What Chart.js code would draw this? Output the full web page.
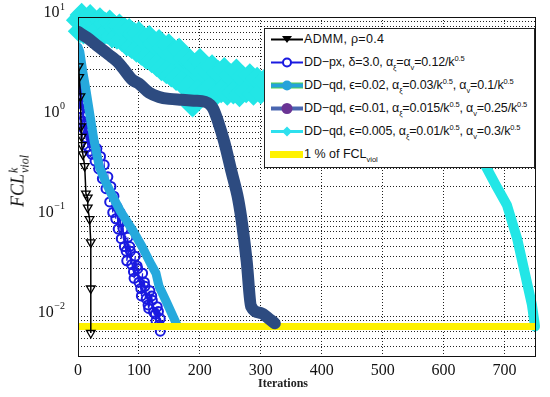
<!DOCTYPE html>
<html lang="en">
<head>
<meta charset="UTF-8">
<title>FCL violation vs iterations</title>
<script src="https://cdn.jsdelivr.net/npm/chart.js"></script>
<style>
    body { margin: 0; background: #fff; }
    #wrap { position: relative; width: 550px; height: 397px; }
    #ytitle {
        position: absolute; left: 19px; top: 181px;
        transform: translate(-50%, -50%) rotate(-90deg);
        font: italic 18px 'Liberation Serif', 'DejaVu Serif', serif;
        white-space: nowrap; color: #111;
    }
    .ss { display: inline-flex; flex-direction: column; vertical-align: middle; font-size: 12px; line-height: 11px; margin-left: 1px; }
    #xtitle {
        position: absolute; left: 283px; top: 376px; transform: translateX(-50%);
        font: bold 12px 'Liberation Serif', serif; color: #222;
    }
    #legend {
        position: absolute; left: 264px; top: 28px; width: 271px; height: 140px;
        box-sizing: border-box; border: 1px solid #222; background: #fff;
        font: 12.5px 'Liberation Sans', Arial, sans-serif; color: #111;
    }
    .row { position: absolute; left: 0; height: 23px; line-height: 23px; white-space: nowrap; }
    .row svg { position: absolute; left: 4px; top: 0; }
    .row span.t { position: absolute; left: 39px; top: 0; }
    .row span.n { letter-spacing: -0.15px; }
    sub, sup { font-size: 7.5px; line-height: 0; }
</style>
</head>
<body>
<div id="wrap">
    <canvas id="c" width="550" height="397"></canvas>
    <div id="ytitle">FCL<span class="ss"><span>k</span><span>viol</span></span></div>
    <div id="xtitle">Iterations</div>
    <div id="legend">
        <div class="row" style="top:-1px">
            <svg width="36" height="23"><line x1="2" y1="11.5" x2="34" y2="11.5" stroke="#000" stroke-width="2"/><polygon points="13,8 23,8 18,15" fill="#000"/></svg>
            <span class="t" style="letter-spacing:0.3px">ADMM, ρ=0.4</span>
        </div>
        <div class="row" style="top:22px">
            <svg width="36" height="23"><line x1="2" y1="11.5" x2="34" y2="11.5" stroke="#1a1ae0" stroke-width="2"/><circle cx="18" cy="11.5" r="4" fill="#fff" stroke="#1a1ae0" stroke-width="2"/></svg>
            <span class="t n">DD−px, δ=3.0, α<sub>ξ</sub>=α<sub>v</sub>=0.12/k<sup>0.5</sup></span>
        </div>
        <div class="row" style="top:45px">
            <svg width="36" height="23"><line x1="2" y1="11.5" x2="34" y2="11.5" stroke="#4fd04f" stroke-width="6"/><line x1="2" y1="11.5" x2="34" y2="11.5" stroke="#26a3da" stroke-width="4"/><circle cx="18" cy="11.5" r="5" fill="#26a3da"/></svg>
            <span class="t n">DD−qd, ϵ=0.02, α<sub>ξ</sub>=0.03/k<sup>0.5</sup>, α<sub>v</sub>=0.1/k<sup>0.5</sup></span>
        </div>
        <div class="row" style="top:68px">
            <svg width="36" height="23"><line x1="2" y1="11.5" x2="34" y2="11.5" stroke="#4a66b0" stroke-width="4"/><circle cx="18" cy="11.5" r="5.5" fill="#6a3494"/></svg>
            <span class="t n">DD−qd, ϵ=0.01, α<sub>ξ</sub>=0.015/k<sup>0.5</sup>, α<sub>v</sub>=0.25/k<sup>0.5</sup></span>
        </div>
        <div class="row" style="top:91px">
            <svg width="36" height="23"><line x1="2" y1="11.5" x2="34" y2="11.5" stroke="#2ee0ee" stroke-width="3"/><polygon points="18,6.5 23,11.5 18,16.5 13,11.5" fill="#2ee0ee"/></svg>
            <span class="t n">DD−qd, ϵ=0.005, α<sub>ξ</sub>=0.01/k<sup>0.5</sup>, α<sub>v</sub>=0.3/k<sup>0.5</sup></span>
        </div>
        <div class="row" style="top:114px">
            <svg width="36" height="23"><rect x="1" y="8" width="33" height="7" fill="#fff200"/></svg>
            <span class="t">1 % of FCL<sub>viol</sub></span>
        </div>
    </div>
</div>
<script>
// ADMM, rho=0.4
const admmIter = [1, 2, 4, 5, 6, 6, 8, 11, 13, 16, 16, 19, 21, 21, 21];
const admmVal = [3.2, 2.5, 1.6, 0.8, 0.63, 0.52, 0.42, 0.32, 0.17, 0.155, 0.123, 0.094, 0.055, 0.019, 0.0068];

// DD-px (noisy)
const pxIter = [2, 3, 3, 4, 5, 5, 6, 7, 8, 9, 10, 11, 13, 14, 16, 17, 19, 21, 23, 25, 28, 31, 34, 37, 40, 43, 46, 49, 52, 54, 57, 59, 62, 64, 66, 69, 71, 73, 76, 74, 79, 82, 80, 85, 88, 86, 91, 94, 92, 97, 100, 98, 103, 106, 104, 109, 112, 110, 115, 118, 116, 121, 124, 122, 127, 130, 128, 132, 133, 135, 135];
const pxVal = [3.5, 2.4, 1.6, 2.8, 1.9, 1.2, 2.1, 1.4, 0.9, 1.3, 0.75, 1.0, 0.62, 0.85, 0.5, 0.7, 0.45, 0.62, 0.42, 0.55, 0.36, 0.48, 0.3, 0.4, 0.24, 0.33, 0.19, 0.25, 0.14, 0.2, 0.11, 0.16, 0.095, 0.125, 0.075, 0.11, 0.06, 0.09, 0.05, 0.075, 0.045, 0.062, 0.036, 0.05, 0.033, 0.045, 0.028, 0.04, 0.024, 0.032, 0.022, 0.03, 0.019, 0.027, 0.016, 0.022, 0.015, 0.02, 0.013, 0.018, 0.012, 0.016, 0.011, 0.0145, 0.0105, 0.0125, 0.009, 0.0112, 0.0082, 0.0095, 0.0071];

// DD-qd, eps=0.02
const qd1Iter = [0, 3, 8, 13, 20, 26, 35, 45, 57, 70, 89, 105, 120, 128, 133, 145, 162];
const qd1Val = [5.0, 4.47, 2.8, 1.86, 1.0, 0.59, 0.316, 0.224, 0.158, 0.112, 0.074, 0.05, 0.033, 0.027, 0.02, 0.014, 0.0083];

// DD-qd, eps=0.01
const qd2Iter = [0, 15, 30, 45, 55, 65, 75, 89, 100, 117, 133, 150, 170, 190, 209, 217, 222, 230, 240, 252, 263, 270, 277, 284, 300, 315, 323];
const qd2Val = [7.1, 6.2, 5.25, 4.45, 4.0, 3.55, 3.0, 2.35, 2.15, 1.74, 1.58, 1.51, 1.48, 1.45, 1.41, 1.32, 1.2, 0.89, 0.56, 0.28, 0.148, 0.079, 0.035, 0.0126, 0.0108, 0.0093, 0.0085];

// DD-qd, eps=0.005 (noisy band, hidden under the legend between ~300 and ~660)
const qd3Iter = [0, 3, 6, 9, 12, 16, 20, 24, 28, 32, 36, 40, 44, 48, 52, 56, 60, 64, 68, 72, 76, 80, 84, 88, 92, 96, 100, 104, 108, 112, 117, 121, 125, 129, 133, 137, 141, 145, 149, 153, 157, 161, 166, 170, 175, 180, 185, 188, 192, 196, 200, 205, 210, 215, 220, 225, 230, 235, 240, 245, 250, 255, 260, 265, 270, 276, 282, 288, 294, 300, 306, 340, 380, 420, 460, 500, 540, 580, 620, 650, 669, 685, 704, 721, 734, 745, 750];
const qd3Val = [9.3, 7.2, 10.5, 7.0, 9.0, 7.4, 10.2, 6.9, 8.8, 7.3, 9.5, 6.6, 8.6, 7.0, 9.0, 6.4, 8.0, 6.2, 8.2, 5.9, 7.6, 5.3, 7.4, 5.0, 6.8, 4.6, 6.9, 4.3, 6.0, 3.9, 6.3, 3.6, 5.4, 3.3, 5.75, 3.0, 4.9, 2.8, 5.2, 2.6, 4.4, 2.4, 4.7, 2.2, 3.9, 2.0, 3.6, 1.3, 3.3, 1.8, 3.7, 1.7, 3.0, 1.9, 3.2, 1.65, 2.8, 1.8, 3.0, 1.7, 2.6, 1.75, 2.9, 1.65, 2.5, 1.8, 2.6, 1.7, 2.4, 1.75, 2.3, 1.8, 1.6, 1.45, 1.3, 1.2, 1.1, 0.95, 0.75, 0.52, 0.32, 0.21, 0.13, 0.059, 0.026, 0.013, 0.0079];

// 1 % of FCL_viol
const refIter = [0, 750];
const refVal = [0.0079, 0.0079];

const xTicks = [0, 100, 200, 300, 400, 500, 600, 700];
const yDecades = [1, 0, -1, -2];

const pts = (xs, ys) => xs.map((x, i) => ({ x: x, y: ys[i] }));

const plotBox = {
    id: 'plotBox',
    afterDraw(chart) {
        const { ctx, chartArea: a } = chart;
        ctx.save();
        ctx.strokeStyle = '#111';
        ctx.lineWidth = 1;
        ctx.strokeRect(Math.round(a.left) + 0.5, Math.round(a.top) + 0.5, Math.round(a.right - a.left), Math.round(a.bottom - a.top));
        // y labels as 10^n
        const y = chart.scales.y;
        ctx.fillStyle = '#111';
        ctx.textBaseline = 'middle';
        yDecades.forEach(e => {
            const py = y.getPixelForValue(Math.pow(10, e)) - 4;
            const ex = e < 0 ? '\u2212' + (-e) : String(e);
            ctx.font = '10px "Liberation Serif", serif';
            ctx.textAlign = 'right';
            const w = ctx.measureText(ex).width;
            ctx.fillText(ex, 65, py - 6);
            ctx.font = '16px "Liberation Serif", serif';
            ctx.fillText('10', 65 - w - 0.5, py);
        });
        ctx.restore();
    }
};

const gridOpts = { color: '#222', lineWidth: 1, drawTicks: false };

new Chart(document.getElementById('c'), {
    type: 'line',
    data: {
        datasets: [
            {
                label: 'ADMM, ρ=0.4',
                data: pts(admmIter, admmVal),
                borderColor: '#000', borderWidth: 1.5,
                pointStyle: 'triangle', rotation: 180, pointRadius: 5,
                pointBorderColor: '#000', pointBackgroundColor: 'rgba(255,255,255,0)', pointBorderWidth: 1.3
            },
            {
                label: 'DD-qd, ε=0.01',
                data: pts(qd2Iter, qd2Val),
                borderColor: '#2d4b80', borderWidth: 12, pointRadius: 0,
                borderCapStyle: 'round', borderJoinStyle: 'round', cubicInterpolationMode: 'monotone'
            },
            {
                label: '1 % of FCL_viol',
                data: pts(refIter, refVal),
                borderColor: '#fff200', borderWidth: 7, pointRadius: 0
            },
            {
                label: 'DD-qd, ε=0.02',
                data: pts(qd1Iter, qd1Val),
                borderColor: '#26a9dd', borderWidth: 9, pointRadius: 0,
                borderCapStyle: 'round', borderJoinStyle: 'round'
            },
            {
                label: 'DD-px',
                data: pts(pxIter, pxVal),
                borderColor: '#1a1ae0', borderWidth: 1.2,
                pointStyle: 'circle', pointRadius: 4.5,
                pointBorderColor: '#1a1ae0', pointBackgroundColor: 'rgba(255,255,255,0)', pointBorderWidth: 2
            },
            {
                label: 'DD-qd, ε=0.005',
                data: pts(qd3Iter, qd3Val),
                borderColor: '#22e6e6', borderWidth: 10,
                borderJoinStyle: 'round', borderCapStyle: 'round',
                pointStyle: 'rectRot',
                pointRadius: c => (c.raw && c.raw.x > 600 ? 0 : 5),
                pointBorderColor: '#22e6e6', pointBackgroundColor: '#22e6e6',
                clip: false
            }
        ]
    },
    options: {
        responsive: false,
        animation: false,
        layout: { padding: { top: 17, right: 9, left: 0, bottom: 0 } },
        plugins: { legend: { display: false }, tooltip: { enabled: false } },
        scales: {
            x: {
                type: 'linear', min: 0, max: 750,
                afterBuildTicks: s => { s.ticks = xTicks.map(v => ({ value: v })); },
                afterFit: s => { s.height = 41; },
                grid: gridOpts,
                border: { display: false, dash: [1, 2] },
                ticks: {
                    padding: 5, color: '#111', maxRotation: 0,
                    font: { family: 'Liberation Serif', size: 16 }
                }
            },
            y: {
                type: 'logarithmic', min: 0.004, max: 10,
                afterBuildTicks: s => {
                    const t = [];
                    for (let e = -3; e <= 1; e++) {
                        for (let m = 1; m <= 9; m++) {
                            const v = m * Math.pow(10, e);
                            if (v >= 0.004 && v <= 10.0001) t.push({ value: v });
                        }
                    }
                    s.ticks = t;
                },
                afterFit: s => { s.width = 78; },
                grid: gridOpts,
                border: { display: false, dash: [1, 2] },
                ticks: { display: false }
            }
        }
    },
    plugins: [plotBox]
});
</script>
</body>
</html>
